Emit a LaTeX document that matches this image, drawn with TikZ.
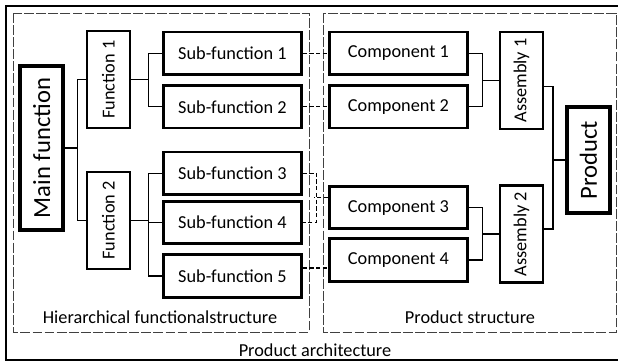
\documentclass[tikz,border=0pt]{standalone}
\usepackage{fontspec}
\setmainfont{Carlito}
\usetikzlibrary{calc}

\begin{document}
\begin{tikzpicture}[
            topbox/.style={rectangle, draw=black, line width=2.8pt, rotate=90, inner sep=0pt,
            minimum width=4.1cm, minimum height=1.075cm, font=\fontsize{17.5}{20}\selectfont},
            fnbox/.style={rectangle, draw=black, line width=1.7pt, rotate=90, inner sep=0pt,
            minimum width=2.425cm, minimum height=1.075cm, font=\fontsize{13}{15}\selectfont},
            partbox/.style={rectangle, draw=black, line width=1.9pt, inner sep=0pt,
            minimum width=3.45cm, minimum height=1.06cm, font=\fontsize{13}{15}\selectfont},
            link/.style={black, line width=0.8pt},
            map/.style={black, line width=0.8pt, dash pattern=on 3pt off 1.8pt},
            frame/.style={black!75, line width=0.7pt, dash pattern=on 7pt off 1.6pt},
            lbl/.style={font=\fontsize{13}{15}\selectfont}
        ]
            \useasboundingbox (0,0) rectangle (15.45,-9.025);

            % Outer frame and the two dashed areas
            \draw[line width=0.8pt] (0.15,-0.15) rectangle (15.6,-9.0);
            \draw[frame] (0.325,-0.325) rectangle (7.725,-8.3);
            \draw[frame] (8.075,-0.325) rectangle (15.4,-8.3);

            % Functional tree (left)
            \node[topbox] (main) at (1.04,-3.7)   {Main function};
            \node[fnbox]  (fun1) at (2.71,-1.99)  {Function 1};
            \node[fnbox]  (fun2) at (2.71,-5.51)  {Function 2};
            \node[partbox] (sub1) at (5.81,-1.33) {Sub-function 1};
            \node[partbox] (sub2) at (5.81,-2.67) {Sub-function 2};
            \node[partbox] (sub3) at (5.81,-4.33) {Sub-function 3};
            \node[partbox] (sub4) at (5.81,-5.56) {Sub-function 4};
            \node[partbox] (sub5) at (5.81,-6.9)  {Sub-function 5};

            % Product tree (right)
            \node[partbox] (comp1) at (9.96,-1.33) {Component 1};
            \node[partbox] (comp2) at (9.96,-2.67) {Component 2};
            \node[partbox] (comp3) at (9.96,-5.19) {Component 3};
            \node[partbox] (comp4) at (9.96,-6.5)  {Component 4};
            \node[fnbox]  (asm1) at (13.04,-2.01)  {Assembly 1};
            \node[fnbox]  (asm2) at (13.04,-5.85)  {Assembly 2};
            \node[topbox, minimum width=2.65cm] (prod) at (14.71,-4.0) {Product};

            % Area captions
            \node[lbl] (hfs)  at (4.0,-7.925)   {Hierarchical functionalstructure};
            \node[lbl] (ps)   at (11.75,-7.925) {Product structure};
            \node[lbl] (parc) at (7.875,-8.75)  {Product architecture};

            % Function decomposition
            \draw[link] (main.south) -- ++(0.3,0) coordinate (jm);
            \draw[link] (jm) |- (fun1.north);
            \draw[link] (jm) |- (fun2.north);
            \draw[link] (fun1.south) -- ++(0.425,0) coordinate (jf1);
            \draw[link] (jf1) |- (sub1.west);
            \draw[link] (jf1) |- (sub2.west);
            \draw[link] (fun2.south) -- ++(0.425,0) coordinate (jf2);
            \draw[link] (jf2) |- (sub3.west);
            \draw[link] (jf2) |- (sub4.west);
            \draw[link] (jf2) |- (sub5.west);

            % Assembly structure
            \draw[link] (asm1.north) -- ++(-0.4,0) coordinate (ja1);
            \draw[link] (ja1) |- (comp1.east);
            \draw[link] (ja1) |- (comp2.east);
            \draw[link] (asm2.north) -- ++(-0.4,0) coordinate (ja2);
            \draw[link] (ja2) |- (comp3.east);
            \draw[link] (ja2) |- (comp4.east);
            \draw[link] (prod.north) -- ++(-0.3,0) coordinate (jp);
            \draw[link] (jp) |- ([yshift=-0.16cm]asm1.south);
            \draw[link] (jp) |- ([yshift=0.125cm]asm2.south);

            % Mapping of sub-functions onto components
            \draw[map] (sub1.east) -- (comp1.west);
            \draw[map] (sub2.east) -- (comp2.west);
            \draw[map] (sub3.east) -- ++(0.35,0) coordinate (js) |- (sub4.east);
            \draw[map] ([yshift=0.26cm]comp3.west) -- ++(-0.35,0);
            \draw[map] ([yshift=0.2cm]sub5.east) -- ([yshift=-0.2cm]comp4.west);

        \end{tikzpicture}
\end{document}
